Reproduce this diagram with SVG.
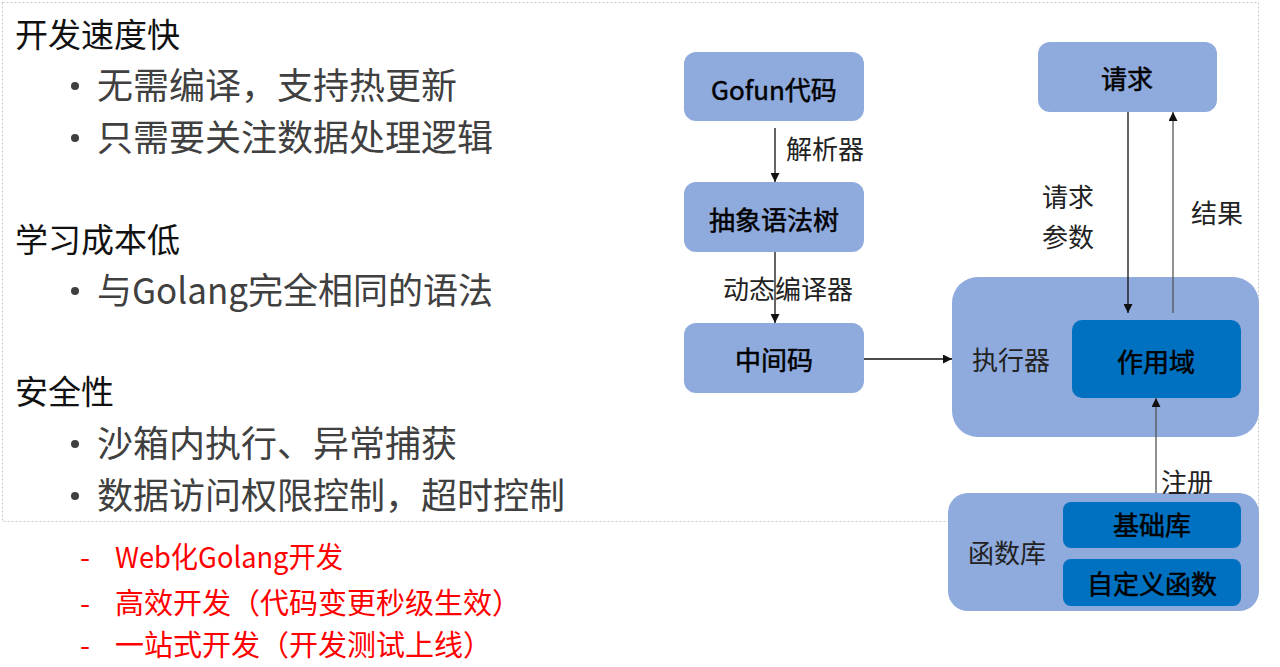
<svg xmlns="http://www.w3.org/2000/svg" width="1280" height="667" viewBox="0 0 1280 667">
<defs>
<style>
.t{font-family:"Noto Sans CJK SC","Noto Sans",sans-serif;}
.title{font-size:33px;fill:#111;}
.bul{font-size:36px;fill:#404040;}
.red{font-size:29px;fill:#FF0000;}
.box{fill:#8FAADC;}
.inner{fill:#0070C0;}
.bt{font-size:26px;fill:#000;stroke:#000;stroke-width:0.5;text-anchor:middle;}
.lbl{font-size:26px;fill:#222;}
.ln{stroke:#111;stroke-width:1.3;fill:none;marker-end:url(#ah);}
.ln2{stroke:#555;stroke-width:1.3;fill:none;marker-end:url(#ah);}
</style>
<marker id="ah" viewBox="0 0 10 10" refX="10" refY="5" markerUnits="userSpaceOnUse" markerWidth="9" markerHeight="9" orient="auto">
<path d="M0,0 L10,5 L0,10 z" fill="#111"/>
</marker>
</defs>
<rect width="1280" height="667" fill="#fff"/>
<rect x="2.5" y="2.5" width="1256" height="519" fill="none" stroke="#c8c8c8" stroke-width="1" stroke-dasharray="2 2"/>

<g id="left-text" class="t">
<text class="title" x="15" y="47">开发速度快</text>
<circle cx="75" cy="86" r="4" fill="#404040"/>
<text class="bul" x="97" y="99">无需编译，支持热更新</text>
<circle cx="75" cy="138" r="4" fill="#404040"/>
<text class="bul" x="97" y="151">只需要关注数据处理逻辑</text>
<text class="title" x="15" y="252">学习成本低</text>
<circle cx="75" cy="291" r="4" fill="#404040"/>
<text class="bul" x="97" y="304" textLength="396" lengthAdjust="spacingAndGlyphs">与Golang完全相同的语法</text>
<text class="title" x="15" y="404">安全性</text>
<circle cx="75" cy="444" r="4" fill="#404040"/>
<text class="bul" x="97" y="457">沙箱内执行、异常捕获</text>
<circle cx="75" cy="496" r="4" fill="#404040"/>
<text class="bul" x="97" y="509">数据访问权限控制，超时控制</text>
<text class="red" y="568"><tspan x="80">-</tspan><tspan x="115" textLength="228" lengthAdjust="spacingAndGlyphs">Web化Golang开发</tspan></text>
<text class="red" y="614"><tspan x="80">-</tspan><tspan x="115">高效开发（代码变更秒级生效）</tspan></text>
<text class="red" y="656"><tspan x="80">-</tspan><tspan x="115">一站式开发（开发测试上线）</tspan></text>
</g>

<g id="node-gofun">
<rect class="box" x="684" y="52" width="180" height="69" rx="12"/>
<text class="t bt" x="774" y="100">Gofun代码</text>
</g>
<g id="node-ast">
<rect class="box" x="684" y="182" width="180" height="70" rx="12"/>
<text class="t bt" x="774" y="230">抽象语法树</text>
</g>
<g id="node-ir">
<rect class="box" x="684" y="323" width="180" height="70" rx="12"/>
<text class="t bt" x="774" y="370">中间码</text>
</g>
<g id="node-request">
<rect class="box" x="1038" y="42" width="179" height="70" rx="12"/>
<text class="t bt" x="1127" y="89">请求</text>
</g>
<g id="node-executor">
<rect class="box" x="952" y="277" width="307" height="160" rx="26"/>
<text class="t lbl" x="972" y="370">执行器</text>
</g>
<g id="node-scope">
<rect class="inner" x="1072" y="320" width="169" height="78" rx="10"/>
<text class="t bt" x="1156" y="372">作用域</text>
</g>
<g id="node-funclib">
<rect class="box" x="948" y="493" width="311" height="118" rx="20"/>
<text class="t lbl" x="968" y="563">函数库</text>
</g>
<g id="node-baselib">
<rect class="inner" x="1063" y="502" width="178" height="46" rx="8"/>
<text class="t bt" x="1152" y="535">基础库</text>
</g>
<g id="node-custom">
<rect class="inner" x="1063" y="559" width="178" height="47" rx="8"/>
<text class="t bt" x="1152" y="594">自定义函数</text>
</g>

<g id="connectors">
<line class="ln" x1="775" y1="128" x2="775" y2="182"/>
<line class="ln" x1="775" y1="252" x2="775" y2="323"/>
<line class="ln" x1="864" y1="359" x2="952" y2="359"/>
<line class="ln" x1="1128" y1="112" x2="1128" y2="313"/>
<line class="ln2" x1="1173" y1="313" x2="1173" y2="112"/>
<line class="ln2" x1="1156" y1="493" x2="1156" y2="398"/>
<text class="t lbl" x="786" y="159">解析器</text>
<text class="t lbl" x="723" y="299">动态编译器</text>
<text class="t lbl" x="1042" y="207">请求</text>
<text class="t lbl" x="1042" y="247">参数</text>
<text class="t lbl" x="1191" y="223">结果</text>
<text class="t lbl" x="1161" y="492">注册</text>
</g>
</svg>
